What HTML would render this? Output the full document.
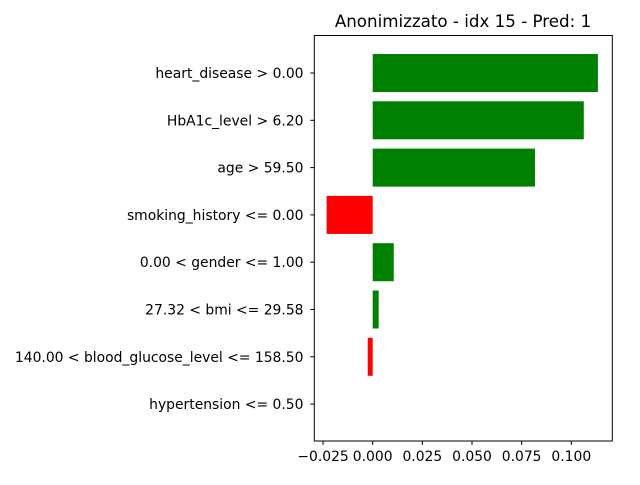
<!DOCTYPE html>
<html><head><meta charset="utf-8"><style>
body{margin:0;background:#fff}
svg{font-family:"DejaVu Sans","Liberation Sans",sans-serif}
</style></head><body>
<svg id="chart" width="640" height="480" xmlns="http://www.w3.org/2000/svg">
<rect width="640" height="480" fill="#fff"/>
<text x="463" y="27" font-size="16.7" text-anchor="middle">Anonimizzato - idx 15 - Pred: 1</text>
<g id="bars"></g>
<g id="yticks"></g>
<g id="xticks"></g>
<rect x="314.3" y="35.5" width="298" height="405.5" fill="none" stroke="#000" stroke-width="1"/>
</svg>
<script>
const categories = ["heart_disease > 0.00","HbA1c_level > 6.20","age > 59.50","smoking_history <= 0.00","0.00 < gender <= 1.00","27.32 < bmi <= 29.58","140.00 < blood_glucose_level <= 158.50","hypertension <= 0.50"];
const weights = [0.1134,0.1063,0.0817,-0.0232,0.0106,0.0030,-0.0025,0.0];
const xTickValues = [-0.025,0.000,0.025,0.050,0.075,0.100];
const xTickLabels = ["\u22120.025","0.000","0.025","0.050","0.075","0.100"];

const NS="http://www.w3.org/2000/svg";
function xScale(v){return 372.7+(v/0.025)*49.65;}
function yScale(i){return 73+i*47.3;}
const bh=38;
const gb=document.getElementById('bars'), gy=document.getElementById('yticks'), gx=document.getElementById('xticks');
function mk(tag,attrs){const e=document.createElementNS(NS,tag);for(const k in attrs)e.setAttribute(k,attrs[k]);return e;}
categories.forEach((c,i)=>{
  const w=weights[i], x0=xScale(Math.min(0,w)), x1=xScale(Math.max(0,w));
  const r=mk('rect',{x:x0,y:yScale(i)-bh/2,width:x1-x0,height:bh,fill:w>0?'#008000':'#ff0000'});
  
  
  gb.appendChild(r);
  const t=mk('line',{x1:310.3,x2:314.3,y1:yScale(i),y2:yScale(i),stroke:'#000'});
  
  
  gy.appendChild(t);
  const l=mk('text',{x:303.5,y:yScale(i)+5,'font-size':'13.9','text-anchor':'end'});
  l.textContent=c;
  
  
  gy.appendChild(l);
});
xTickValues.forEach((v,i)=>{
  const x=xScale(v);
  const t=mk('line',{x1:x,x2:x,y1:441,y2:445,stroke:'#000'});
  
  
  gx.appendChild(t);
  const l=mk('text',{x:x,y:461,'font-size':'13.9','text-anchor':'middle'});
  l.textContent=xTickLabels[i];
  
  
  gx.appendChild(l);
});
</script>
</body></html>
